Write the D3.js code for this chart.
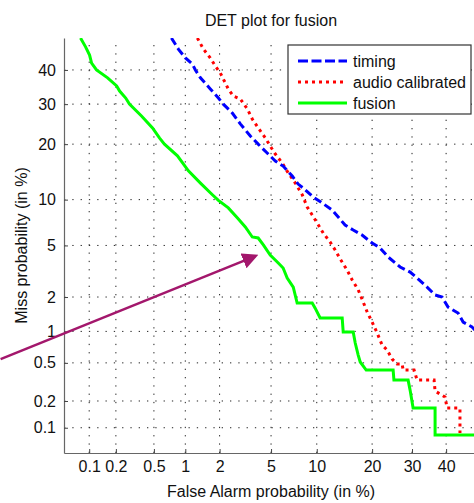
<!DOCTYPE html>
<html lang="en">
<head>
<meta charset="UTF-8">
<title>DET plot for fusion</title>
<script src="https://d3js.org/d3.v7.min.js"></script>
<style>
  html, body { margin: 0; padding: 0; background: #fff; }
  svg { display: block; font-family: "Liberation Sans", Arial, sans-serif; }
</style>
</head>
<body>
<svg width="474" height="503"></svg>
<script>
// values in percent: [false alarm, miss]
const timing = [
  [0.741, 50], [0.862, 46.5], [1.002, 43.7], [1.159, 41.8], [1.234, 40.0], [1.369, 37.6],
  [1.669, 34.3], [1.954, 31.7], [2.147, 30.0], [2.543, 27.6], [2.944, 24.8], [3.518, 21.85],
  [4.03, 20.0], [4.69, 18.09], [5.36, 16.47], [6.07, 15.5], [6.99, 13.69], [7.64, 12.34],
  [8.24, 11.71], [9.51, 10.37], [10.78, 9.54], [12.32, 8.63], [14.54, 6.90], [16.06, 6.39],
  [17.84, 5.91], [20.0, 5.20], [21.84, 4.79], [23.76, 4.12], [26.8, 3.47], [29.47, 3.17],
  [31.42, 2.85], [34.28, 2.41], [36.65, 2.08], [38.76, 2.0], [40.6, 1.645], [43.7, 1.46],
  [45.3, 1.216], [48.1, 1.096], [50, 0.967]
];
const audioCalibrated = [
  [1.285, 50], [1.453, 46.5], [1.669, 43.7], [1.843, 41.2], [2.027, 39.07], [2.36, 34.3],
  [2.59, 32.28], [2.944, 31.43], [3.337, 28.67], [3.64, 26.03], [4.03, 23.8], [4.55, 21.4],
  [4.93, 19.59], [5.36, 17.88], [5.98, 16.08], [6.58, 14.22], [7.32, 12.5], [8.12, 10.7],
  [8.73, 9.01], [9.38, 8.02], [10.06, 7.12], [10.93, 6.10], [12.0, 5.28], [12.81, 4.64],
  [13.68, 3.98], [14.9, 3.29], [15.87, 2.75], [17.05, 2.29], [17.84, 1.92], [18.93, 1.49],
  [20.0, 1.216], [21.14, 0.967], [22.3, 0.745], [23.51, 0.668], [24.75, 0.545], [26.01, 0.487],
  [27.32, 0.487], [27.6, 0.423], [30.57, 0.423], [31.42, 0.334], [36.35, 0.334], [36.65, 0.256],
  [39.67, 0.221], [40.3, 0.167], [44.3, 0.167], [44.3, 0.0866]
];
const fusion = [
  [0.0791, 50], [0.0907, 47.2], [0.101, 44.6], [0.1066, 42.1], [0.1214, 40.0], [0.162, 37.6],
  [0.204, 35.2], [0.2196, 33.7], [0.2555, 31.7], [0.280, 30.0], [0.374, 26.8], [0.484, 23.8],
  [0.567, 21.4], [0.635, 20.0], [0.845, 17.5], [1.067, 14.6], [1.369, 12.5], [1.738, 10.7],
  [1.954, 9.9], [2.36, 8.9], [2.785, 7.7], [3.22, 6.70], [3.64, 5.73], [4.03, 5.64],
  [4.40, 5.04], [4.93, 4.26], [5.62, 3.72], [6.07, 3.41], [6.47, 2.85], [7.10, 2.41],
  [7.53, 1.78], [9.38, 1.78], [9.78, 1.61], [10.48, 1.32], [14.02, 1.32], [14.2, 0.987],
  [16.06, 0.987], [16.46, 0.779], [17.05, 0.597], [17.46, 0.51], [18.71, 0.423], [25.0, 0.423],
  [25.2, 0.334], [28.93, 0.334], [29.47, 0.262], [30.3, 0.167], [36.65, 0.167], [36.65, 0.0821],
  [50, 0.0821]
];
const seriesNames = ["timing", "audio calibrated", "fusion"];
const xTicks = [0.1, 0.2, 0.5, 1, 2, 5, 10, 20, 30, 40];
const yTicks = [0.1, 0.2, 0.5, 1, 2, 5, 10, 20, 30, 40];
const tickLabels = ["0.1", "0.2", "0.5", "1", "2", "5", "10", "20", "30", "40"];
const axisLimits = [0.05, 50];
// annotation arrow, percent [false alarm, miss]: tail then head
const arrowPts = [[0.0074, 0.545], [3.84, 4.19]];

// inverse normal cdf (Acklam)
function probit(p) {
  const a = [-3.969683028665376e+01, 2.209460984245205e+02, -2.759285104469687e+02, 1.383577518672690e+02, -3.066479806614716e+01, 2.506628277459239e+00];
  const b = [-5.447609879822406e+01, 1.615858368580409e+02, -1.556989798598866e+02, 6.680131188771972e+01, -1.328068155288572e+01];
  const c = [-7.784894002430293e-03, -3.223964580411365e-01, -2.400758277161838e+00, -2.549732539343734e+00, 4.374664141464968e+00, 2.938163982698783e+00];
  const d = [7.784695709041462e-03, 3.224671290700398e-01, 2.445134137142996e+00, 3.754408661907416e+00];
  const plow = 0.02425;
  let q, r;
  if (p < plow) {
    q = Math.sqrt(-2 * Math.log(p));
    return (((((c[0]*q+c[1])*q+c[2])*q+c[3])*q+c[4])*q+c[5]) / ((((d[0]*q+d[1])*q+d[2])*q+d[3])*q+1);
  }
  if (p > 1 - plow) {
    q = Math.sqrt(-2 * Math.log(1 - p));
    return -(((((c[0]*q+c[1])*q+c[2])*q+c[3])*q+c[4])*q+c[5]) / ((((d[0]*q+d[1])*q+d[2])*q+d[3])*q+1);
  }
  q = p - 0.5; r = q * q;
  return (((((a[0]*r+a[1])*r+a[2])*r+a[3])*r+a[4])*r+a[5])*q / (((((b[0]*r+b[1])*r+b[2])*r+b[3])*r+b[4])*r+1);
}
const pz = v => probit(v / 100);

let svg = d3.select("svg");
let margin = {left: 64, right: 478, top: 38, bottom: 453};

let x = d3.scaleLinear().domain(axisLimits.map(pz)).range([margin.left, margin.right]);
let y = d3.scaleLinear().domain(axisLimits.map(pz)).range([margin.bottom, margin.top]);

svg.append("defs").append("clipPath").attr("id", "plotclip")
  .append("rect").attr("x", margin.left).attr("y", margin.top)
  .attr("width", margin.right - margin.left).attr("height", margin.bottom - margin.top);

// grid
let grid = svg.append("g").attr("stroke", "#222").attr("stroke-width", 1).attr("stroke-dasharray", "1.3,7");
grid.selectAll(".vg").data(xTicks).enter().append("line")
  .attr("x1", d => x(pz(d))).attr("x2", d => x(pz(d)))
  .attr("y1", margin.bottom).attr("y2", margin.top);
grid.selectAll(".hg").data(yTicks).enter().append("line")
  .attr("y1", d => y(pz(d))).attr("y2", d => y(pz(d)))
  .attr("x1", margin.left).attr("x2", margin.right);

// axes
let xAxis = svg.append("g").attr("transform", "translate(0," + margin.bottom + ")")
  .call(d3.axisBottom(x).tickValues(xTicks.map(pz)).tickFormat((d, i) => tickLabels[i])
    .tickSizeInner(-4).tickSizeOuter(0).tickPadding(8));
let yAxis = svg.append("g").attr("transform", "translate(" + margin.left + ",0)")
  .call(d3.axisLeft(y).tickValues(yTicks.map(pz)).tickFormat((d, i) => tickLabels[i])
    .tickSizeInner(-4).tickSizeOuter(0).tickPadding(8));
[xAxis, yAxis].forEach(a => {
  a.select(".domain").attr("stroke", "#666").attr("stroke-width", 1.2);
  a.selectAll(".tick line").attr("stroke", "#444");
  a.selectAll(".tick text").attr("fill", "#111").style("font-size", "16px");
  a.attr("font-family", null);
});

// curves
let line = d3.line().x(d => x(pz(d[0]))).y(d => y(pz(d[1])));
let curves = svg.append("g").attr("clip-path", "url(#plotclip)").attr("fill", "none");
curves.append("path").datum(fusion).attr("d", line)
  .attr("stroke", "#00ff00").attr("stroke-width", 3);
curves.append("path").datum(audioCalibrated).attr("d", line)
  .attr("stroke", "#ff0000").attr("stroke-width", 3).attr("stroke-dasharray", "3,4");
curves.append("path").datum(timing).attr("d", line)
  .attr("stroke", "#0000ff").attr("stroke-width", 3).attr("stroke-dasharray", "8,4");

// titles
svg.append("text").attr("x", (margin.left + margin.right) / 2).attr("y", 26)
  .attr("text-anchor", "middle").style("font-size", "16px").attr("fill", "#111")
  .text("DET plot for fusion");
svg.append("text").attr("x", (margin.left + margin.right) / 2).attr("y", 497)
  .attr("text-anchor", "middle").style("font-size", "16px").attr("fill", "#111")
  .text("False Alarm probability (in %)");
svg.append("text").attr("transform", "translate(27," + (margin.top + margin.bottom) / 2 + ") rotate(-90)")
  .attr("text-anchor", "middle").style("font-size", "16px").attr("fill", "#111")
  .text("Miss probability (in %)");

// legend
let legend = svg.append("g");
legend.append("rect").attr("x", 288).attr("y", 45).attr("width", 183).attr("height", 69)
  .attr("fill", "#fff").attr("stroke", "#333").attr("stroke-width", 1.2);
let legStyles = [
  {color: "#0000ff", dash: "10,3.5"},
  {color: "#ff0000", dash: "3,4"},
  {color: "#00ff00", dash: null}
];
seriesNames.forEach((name, i) => {
  let cy = 61 + i * 21;
  legend.append("line").attr("x1", 298).attr("x2", 347).attr("y1", cy).attr("y2", cy)
    .attr("stroke", legStyles[i].color).attr("stroke-width", 3)
    .attr("stroke-dasharray", legStyles[i].dash);
  legend.append("text").attr("x", 353).attr("y", cy + 5.5)
    .style("font-size", "16px").attr("fill", "#111").text(name);
});

// annotation arrow
let defs = svg.select("defs");
defs.append("marker").attr("id", "arrowhead").attr("viewBox", "0 0 10 10")
  .attr("refX", 8).attr("refY", 5).attr("markerWidth", 6.4).attr("markerHeight", 6.4)
  .attr("markerUnits", "strokeWidth").attr("orient", "auto")
  .append("path").attr("d", "M0,0 L10,5 L0,10 Z").attr("fill", "#a3176c");
svg.append("line")
  .attr("x1", x(pz(arrowPts[0][0]))).attr("y1", y(pz(arrowPts[0][1])))
  .attr("x2", x(pz(arrowPts[1][0]))).attr("y2", y(pz(arrowPts[1][1])))
  .attr("stroke", "#a3176c").attr("stroke-width", 2.5)
  .attr("marker-end", "url(#arrowhead)");
</script>
</body>
</html>
